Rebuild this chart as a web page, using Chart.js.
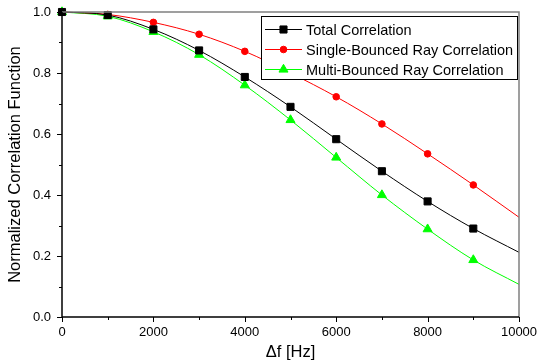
<!DOCTYPE html>
<html>
<head>
<meta charset="utf-8">
<script src="https://cdn.jsdelivr.net/npm/chart.js@4.4.1/dist/chart.umd.min.js"></script>
<style>
  html, body { margin: 0; padding: 0; background: #fff; }
  #wrap { width: 537px; height: 362px; position: relative; }
</style>
</head>
<body>
<div id="wrap"><canvas id="corrChart" width="537" height="362"></canvas></div>
<script>
// Frequency separation (Hz) and correlation values
const freqs = [0, 1000, 2000, 3000, 4000, 5000, 6000, 7000, 8000, 9000, 10000];
const totalCorr = [1.0, 0.990, 0.943, 0.874, 0.787, 0.689, 0.583, 0.478, 0.379, 0.290, 0.212];
const singleCorr = [1.0, 0.992, 0.966, 0.927, 0.871, 0.800, 0.722, 0.633, 0.535, 0.433, 0.327];
const multiCorr = [1.0, 0.986, 0.935, 0.860, 0.760, 0.646, 0.523, 0.400, 0.288, 0.187, 0.107];

const xTicks = [0, 2000, 4000, 6000, 8000, 10000];
const yTicks = [0.0, 0.2, 0.4, 0.6, 0.8, 1.0];

const seriesNames = ['Total Correlation', 'Single-Bounced Ray Correlation', 'Multi-Bounced Ray Correlation'];

const FONT = '"Liberation Sans", Arial, sans-serif';

// markers on every sample except the last one (curve just runs to 10 kHz)
function markerSizes(r) {
    return freqs.map((f, i) => i === freqs.length - 1 ? 0 : r);
}

function toPoints(vals) {
    return freqs.map((f, i) => ({ x: f, y: vals[i] }));
}

function makeSet(label, vals, color, style, r) {
    return {
        label: label,
        data: toPoints(vals),
        borderColor: color,
        backgroundColor: color,
        borderWidth: 1,
        pointStyle: style,
        pointRadius: markerSizes(r),
        pointBorderWidth: 1,
        pointBorderColor: color,
        pointBackgroundColor: color,
        cubicInterpolationMode: 'monotone',
        clip: false
    };
}

// draw one legend marker by hand
function drawMarker(ctx, style, x, y, r, color) {
    ctx.save();
    ctx.fillStyle = color;
    ctx.strokeStyle = color;
    ctx.lineWidth = 1;
    ctx.beginPath();
    if (style === 'rect') {
        const s = Math.SQRT1_2 * r;
        ctx.rect(x - s, y - s, 2 * s, 2 * s);
    } else if (style === 'triangle') {
        ctx.moveTo(x, y - r);
        ctx.lineTo(x + r * 0.866, y + r * 0.5);
        ctx.lineTo(x - r * 0.866, y + r * 0.5);
        ctx.closePath();
    } else {
        ctx.arc(x, y, r, 0, Math.PI * 2);
    }
    ctx.fill();
    ctx.stroke();
    ctx.restore();
}

// frame, tick marks and the boxed legend inside the plot
const framePlugin = {
    id: 'frame',
    afterDraw(chart) {
        const ctx = chart.ctx;
        const area = chart.chartArea;
        const xs = chart.scales.x;
        const ys = chart.scales.y;

        ctx.save();
        // top / right border (grey)
        ctx.strokeStyle = '#808080';
        ctx.lineWidth = 1.5;
        ctx.beginPath();
        ctx.moveTo(area.left, area.top);
        ctx.lineTo(area.right, area.top);
        ctx.lineTo(area.right, area.bottom);
        ctx.stroke();

        // left / bottom axes (black)
        ctx.strokeStyle = '#000';
        ctx.lineWidth = 1.5;
        ctx.beginPath();
        ctx.moveTo(area.left, area.top);
        ctx.lineTo(area.left, area.bottom);
        ctx.lineTo(area.right, area.bottom);
        ctx.stroke();

        // ticks
        ctx.lineWidth = 1;
        ctx.beginPath();
        for (let v = 0; v <= 10000; v += 1000) {
            const px = Math.round(xs.getPixelForValue(v)) + 0.5;
            const len = (v % 2000 === 0) ? 5 : 3;
            ctx.moveTo(px, area.bottom);
            ctx.lineTo(px, area.bottom + len);
        }
        for (let k = 0; k <= 10; k++) {
            const py = Math.round(ys.getPixelForValue(k / 10)) + 0.5;
            const len = (k % 2 === 0) ? 5 : 3;
            ctx.moveTo(area.left, py);
            ctx.lineTo(area.left - len, py);
        }
        ctx.stroke();

        // legend box
        const bx = 261, by = 16, bw = 256, bh = 63;
        ctx.fillStyle = '#fff';
        ctx.fillRect(bx, by, bw, bh);
        ctx.strokeStyle = '#000';
        ctx.lineWidth = 1;
        ctx.strokeRect(bx + 0.5, by + 0.5, bw, bh);

        ctx.font = '14.5px ' + FONT;
        ctx.textBaseline = 'middle';
        ctx.textAlign = 'left';
        chart.data.datasets.forEach((ds, i) => {
            const rowY = by + 13.5 + i * 20;
            ctx.strokeStyle = ds.borderColor;
            ctx.lineWidth = 1;
            ctx.beginPath();
            ctx.moveTo(bx + 4, rowY);
            ctx.lineTo(bx + 41, rowY);
            ctx.stroke();
            drawMarker(ctx, ds.pointStyle, bx + 22.5, rowY, ds.pointRadius[0], ds.borderColor);
            ctx.fillStyle = '#000';
            ctx.fillText(ds.label, bx + 45, rowY + 1);
        });
        ctx.restore();
    }
};

const ctx = document.getElementById('corrChart').getContext('2d');

new Chart(ctx, {
    type: 'line',
    data: {
        datasets: [
            makeSet(seriesNames[0], totalCorr, '#000000', 'rect', 5),
            makeSet(seriesNames[1], singleCorr, '#ff0000', 'circle', 3.3),
            makeSet(seriesNames[2], multiCorr, '#00ff00', 'triangle', 5.2)
        ]
    },
    options: {
        responsive: false,
        animation: false,
        devicePixelRatio: 1,
        layout: {
            padding: { top: 12, right: 18, left: 0, bottom: 0 }
        },
        plugins: {
            legend: { display: false },
            tooltip: { enabled: false }
        },
        scales: {
            x: {
                type: 'linear',
                min: 0,
                max: 10000,
                afterFit: function(scale) {
                    scale.height = 45;
                    scale.paddingLeft = 0;
                    scale.paddingRight = 0;
                },
                afterBuildTicks: function(scale) {
                    scale.ticks = xTicks.map(v => ({ value: v }));
                },
                grid: { display: true, drawOnChartArea: false, drawTicks: false, color: 'rgba(0,0,0,0)' },
                border: { display: false },
                ticks: {
                    padding: 8,
                    color: '#000',
                    font: { family: FONT, size: 13 },
                    maxRotation: 0,
                    callback: function(v) { return String(v); }
                },
                title: {
                    display: true,
                    text: 'Δf [Hz]',
                    color: '#000',
                    font: { family: FONT, size: 16.5 },
                    padding: { top: 0, bottom: 0 }
                }
            },
            y: {
                type: 'linear',
                min: 0,
                max: 1,
                afterFit: function(scale) {
                    scale.width = 62;
                    scale.paddingTop = 0;
                    scale.paddingBottom = 0;
                },
                afterBuildTicks: function(scale) {
                    scale.ticks = yTicks.map(v => ({ value: v }));
                },
                grid: { display: true, drawOnChartArea: false, drawTicks: false, color: 'rgba(0,0,0,0)' },
                border: { display: false },
                ticks: {
                    padding: 11,
                    color: '#000',
                    font: { family: FONT, size: 13 },
                    callback: function(v) { return Number(v).toFixed(1); }
                },
                title: {
                    display: true,
                    text: 'Normalized Correlation Function',
                    color: '#000',
                    font: { family: FONT, size: 16.5 },
                    padding: { top: 6, bottom: 0 }
                }
            }
        }
    },
    plugins: [framePlugin]
});
</script>
</body>
</html>
